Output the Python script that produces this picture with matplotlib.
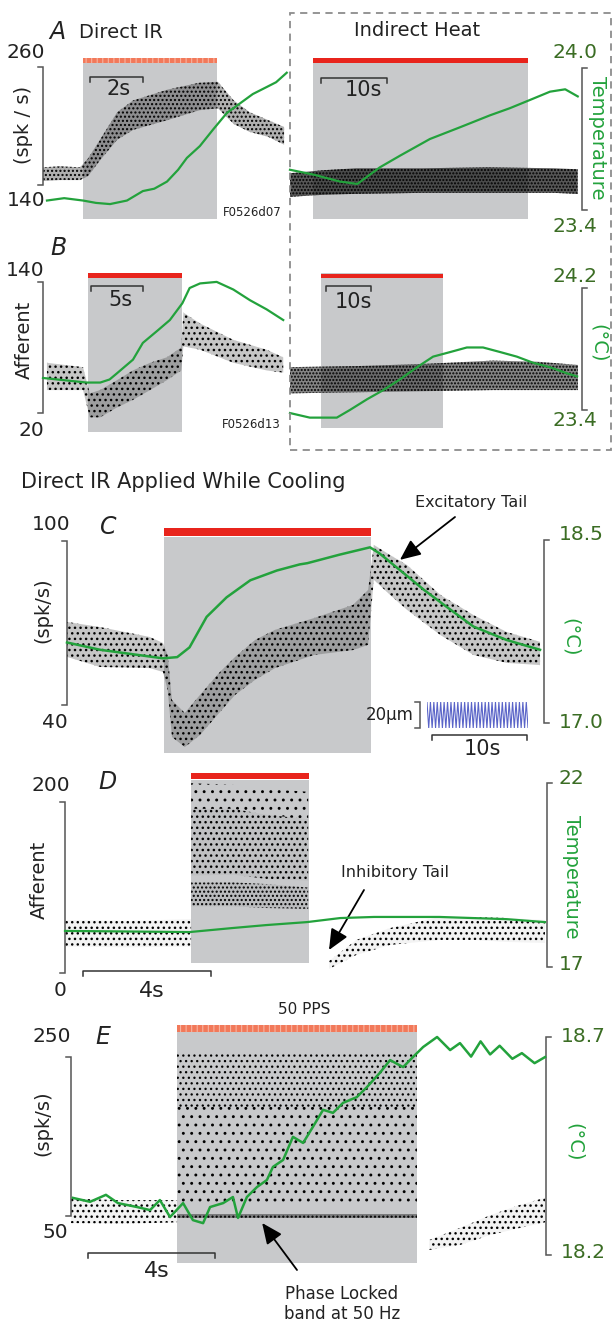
import numpy as np
import matplotlib
matplotlib.use('Agg')
import matplotlib.pyplot as plt
from matplotlib.patches import Rectangle
from matplotlib.transforms import blended_transform_factory as blend

W, H = 614, 1323
plt.rcParams['font.family'] = ['DejaVu Sans']
plt.rcParams['hatch.linewidth'] = 1.0

GREEN = '#23a23c'
DKGREEN = '#3b6d24'
SHADE = '#c8c9cb'
RED = '#e8241c'
SALMON = '#f2795a'
INK = '#222222'
AXC = '#555555'

# ---------------- data ----------------
# A, direct IR: firing-rate cloud (spk/s) and temperature (deg C)
a1_t = [0, 0.64, 1.4, 1.7, 2.15, 2.8, 3.4, 4.7, 5.9, 6.6, 7.2, 7.8, 8.5, 9.1]
a1_lo = [144, 145, 145, 149, 165, 186, 196, 206, 216, 218, 202, 194, 189, 181]
a1_hi = [158, 159, 158, 167, 186, 214, 226, 237, 244, 245, 226, 214, 206, 199]
a1_temp_t = [0.15, 0.8, 1.51, 2.0, 2.53, 3.17, 3.77, 4.2, 4.68, 5.1, 5.43, 5.92, 6.42, 6.94, 7.43,
             7.92, 8.45, 8.8, 9.2]
a1_temp = [23.44, 23.45, 23.44, 23.43, 23.425, 23.44, 23.48, 23.49, 23.52, 23.57, 23.62, 23.67,
           23.74, 23.81, 23.85, 23.89, 23.92, 23.94, 23.98]

# A, indirect heat
a2_t = [0, 5, 10, 20, 30, 40, 43.6]
a2_lo = [128, 130, 131, 132, 132, 132, 131]
a2_hi = [152, 155, 157, 157, 158, 157, 156]
a2_temp_t = [0, 3.5, 7.6, 10.2, 13.6, 16.7, 21.2, 25.8, 30.3, 33.3, 36.8, 39.4, 41.7, 43.6]
a2_temp = [23.57, 23.55, 23.52, 23.51, 23.58, 23.63, 23.70, 23.75, 23.80, 23.83, 23.87, 23.90, 23.91, 23.88]

# B, direct IR
b1_t = [0.38, 3.85, 4.5, 5.5, 7.1, 8.65, 10.3, 11.9, 13.3, 13.5, 15.1, 18.3, 21.5, 23.1]
b1_lo = [41, 41, 16, 16, 25, 32, 41, 50, 59, 81, 78, 66, 59, 57]
b1_hi = [66, 62, 38, 41, 50, 59, 66, 71, 80, 112, 102, 87, 78, 71]
b1_temp_t = [0, 4.2, 5.5, 6.4, 7.1, 8.65, 9.6, 11.0, 12.2, 13.4, 14.1, 15.1, 16.7, 18.3, 19.9, 21.5, 23.1]
b1_temp = [23.61, 23.58, 23.58, 23.60, 23.64, 23.73, 23.84, 23.92, 23.99, 24.10, 24.20, 24.23, 24.24, 24.19, 24.12, 24.06, 23.99]

# B, indirect heat
b2_t = [0, 15, 30, 45, 55, 64]
b2_lo = [38, 39, 40, 41, 41, 41]
b2_hi = [62, 63, 65, 68, 67, 64]
b2_temp_t = [0, 4.4, 10.4, 13.3, 17.1, 20.7, 24.4, 28.2, 31.8, 35.6, 39.3, 42.9, 46.7, 50.4, 54, 57.8, 61.6, 63.8]
b2_temp = [23.38, 23.35, 23.35, 23.40, 23.47, 23.53, 23.60, 23.68, 23.75, 23.78, 23.81, 23.81, 23.78, 23.75, 23.71, 23.68, 23.64, 23.62]

# C, direct IR while cooling
c_t = [0, 3.5, 8.7, 10.1, 10.6, 11.05, 12.4, 14.0, 16.1, 17.7, 19.8, 21.9, 26.0, 30.1, 31.7,
       32.3, 34.0, 35.8, 39.3, 42.8, 46.3, 49.8]
c_lo = [57.6, 53.9, 53.5, 52.1, 45.5, 28.3, 24.6, 29.0, 37.4, 43.7, 49.2, 53.5, 58.3, 60.1, 62.0,
        85.8, 80.3, 74.8, 65.6, 58.3, 55.4, 54.6]
c_hi = [70.4, 68.5, 64.9, 62.7, 58.3, 41.8, 37.1, 43.7, 52.1, 57.6, 63.8, 67.5, 71.8, 76.6, 82.1,
        98.6, 94.9, 91.2, 80.3, 72.9, 66.7, 63.1]
c_temp_t = [0, 3.5, 10.1, 11.6, 12.9, 14.7, 16.8, 19.3, 22.1, 24.5, 25.3, 28.7, 31.9, 32.9, 35.1,
            37.6, 40.0, 42.8, 46.3, 49.8]
c_temp = [17.66, 17.60, 17.53, 17.54, 17.62, 17.87, 18.03, 18.17, 18.25, 18.30, 18.31, 18.38, 18.44,
          18.39, 18.25, 18.09, 17.95, 17.79, 17.68, 17.60]
vib_um = [10, -10]        # 20 um peak-to-peak vibration
vib_cycles = 30

# D
d_pre_t = [0, 2.0, 3.94]
d_pre_lo = [31, 30, 31]
d_pre_hi = [62, 61, 63]
d_in_t = [3.94, 5.25, 6.3, 7.6]
d_top_lo = [192, 192, 185, 180]
d_top_hi = [222, 220, 215, 212]
d_up_lo = [114, 115, 110, 108]
d_up_hi = [192, 192, 185, 180]
d_low_lo = [78, 78, 76, 75]
d_low_hi = [106, 106, 104, 100]
d_post_t = [8.25, 9.1, 10.16, 11.7, 12.8, 13.8, 15.0]
d_post_lo = [4.7, 21, 32.8, 38.6, 38.6, 36.3, 35.1]
d_post_hi = [14, 38.6, 52.6, 65.5, 65.5, 64.4, 62]
d_temp_t = [0, 3.9, 5.25, 6.3, 7.56, 8.6, 9.66, 11.7, 13.8, 15.0]
d_temp = [17.98, 17.95, 18.06, 18.14, 18.22, 18.33, 18.36, 18.36, 18.30, 18.22]

# E, 50 pulses per second
e_pre_t = [0, 1.5, 3.34]
e_pre_lo = [41, 40, 42]
e_pre_hi = [72, 70, 70]
e_in_t = [3.34, 10.9]
e_lock_lo = [48, 48]
e_lock_hi = [53, 53]
e_sparse_lo = [66, 66]
e_sparse_hi = [187, 187]
e_dense_lo = [187, 187]
e_dense_hi = [255, 255]
e_post_t = [11.28, 12.25, 13.2, 14.14, 14.93]
e_post_lo = [7.2, 13.5, 26, 35, 42]
e_post_hi = [19.8, 35, 51, 64, 73]
e_temp_t = [0.06, 0.6, 1.1, 1.48, 2.08, 2.49, 2.8, 3.12, 3.53, 3.84, 4.16, 4.38, 4.79, 5.1, 5.26,
            5.54, 5.86, 6.17, 6.36, 6.68, 6.99, 7.31, 7.62, 7.94, 8.25, 8.57, 9.0, 9.32, 9.73,
            10.05, 10.46, 10.77, 11.09, 11.53, 11.94, 12.25, 12.6, 12.9, 13.2, 13.5, 13.9, 14.2, 14.6, 14.93]
e_temp = [18.331, 18.322, 18.338, 18.319, 18.310, 18.303, 18.326, 18.287, 18.319, 18.280, 18.273,
          18.310, 18.319, 18.333, 18.285, 18.333, 18.356, 18.372, 18.402, 18.418, 18.471, 18.457,
          18.494, 18.533, 18.526, 18.549, 18.562, 18.585, 18.618, 18.647, 18.631, 18.654, 18.677,
          18.700, 18.670, 18.686, 18.655, 18.690, 18.660, 18.680, 18.650, 18.663, 18.640, 18.654]

fig = plt.figure(figsize=(W / 100, H / 100), dpi=100)


def T(x, y, s, **kw):
    kw.setdefault('ha', 'center')
    kw.setdefault('va', 'center')
    kw.setdefault('color', INK)
    return fig.text(x / W, 1 - y / H, s, **kw)


def panel(xl, xr, yt, yb, tspan, ref, tref):
    # ref/tref = (pixel_y, value, pixel_y, value) at the two bracket ends
    ax = fig.add_axes([xl / W, 1 - yb / H, (xr - xl) / W, (yb - yt) / H])
    ax.set_xlim(0, tspan)
    tw = ax.twinx()
    for a, (p0, v0, p1, v1) in ((ax, ref), (tw, tref)):
        k = (v1 - v0) / (p0 - p1)
        a.set_ylim(v0 + (p0 - yb) * k, v0 + (p0 - yt) * k)
        a.axis('off')
    return ax, tw


def band(ax, t, lo, hi, hatch='....', face=0.45, hlw=1.0):
    with plt.rc_context({'hatch.linewidth': hlw}):
        pc = ax.fill_between(t, lo, hi, facecolor=(0.12, 0.12, 0.12, face), edgecolor='k',
                             hatch=hatch, linewidth=0, clip_on=False, zorder=2)
        if hasattr(pc, 'set_hatch_linewidth'):
            pc.set_hatch_linewidth(hlw)


def temp_line(tw, t, v, lw=1.6):
    tw.plot(t, v, color=GREEN, lw=lw, clip_on=False, zorder=3)


def bracket(ax, xpx, v0, v1, side):
    tr = blend(fig.transFigure, ax.transData)
    x = xpx / W
    d = 5 / W * (-1 if side == 'left' else 1)
    ax.plot([x + d, x, x, x + d], [v0, v0, v1, v1], transform=tr, color=AXC, lw=1.1,
            clip_on=False, solid_joinstyle='miter')


def scalebar(ax, t0, length, ypx, label, lx, ly, fs=15):
    tr = blend(ax.transData, fig.transFigure)
    y = 1 - ypx / H
    dy = 5 / H
    ax.plot([t0, t0, t0 + length, t0 + length], [y - dy, y, y, y - dy], transform=tr,
            color='#333333', lw=1.1, clip_on=False)
    T(lx, ly, label, fontsize=fs)


def stim(ax, t0, t1, ypx, hpx, color, pulsed=False):
    tr = blend(ax.transData, fig.transFigure)
    with plt.rc_context({'hatch.linewidth': 0.8}):
        r = Rectangle((t0, 1 - (ypx + hpx / 2) / H), t1 - t0, hpx / H, transform=tr,
                      facecolor=color, edgecolor='#f8b3a0' if pulsed else color,
                      hatch='|||' if pulsed else None, lw=0, clip_on=False, zorder=4)
        ax.add_patch(r)


def arrow(ax, xy, tail):
    ax.annotate('', xy=xy, xytext=(tail[0] / W, 1 - tail[1] / H), textcoords='figure fraction',
                arrowprops=dict(arrowstyle='-|>,head_length=0.9,head_width=0.4', color='k',
                                lw=1.3, mutation_scale=14, shrinkA=0, shrinkB=0))


NUM = 14.5
LAB = 14

# ---------------- A ----------------
axA1, twA1 = panel(43, 287, 62, 219, 9.21, (185, 140, 67, 260), (210, 23.4, 68, 24.0))
axA1.axvspan(1.51, 6.57, color=SHADE, lw=0, zorder=0)
band(axA1, a1_t, a1_lo, a1_hi, hatch='....', face=0.35)
temp_line(twA1, a1_temp_t, a1_temp)
stim(axA1, 1.51, 6.57, 60, 5, SALMON, pulsed=True)
bracket(axA1, 43, 140, 260, 'left')
scalebar(axA1, 1.77, 2, 77, '2s', 119, 89)
T(26, 53, '260', fontsize=NUM)
T(26, 200, '140', fontsize=NUM)
T(24, 125, '(spk / s)', fontsize=LAB, rotation=90)
T(57, 32, 'A', fontsize=17, style='italic')
T(79, 32, 'Direct IR', fontsize=14, ha='left')
T(223, 213, 'F0526d07', fontsize=8.5, ha='left')

axA2, twA2 = panel(290, 578, 62, 219, 43.64, (185, 140, 67, 260), (210, 23.4, 68, 24.0))
axA2.axvspan(3.48, 36.06, color=SHADE, lw=0, zorder=0)
band(axA2, a2_t, a2_lo, a2_hi, hatch='.....', face=0.75)
temp_line(twA2, a2_temp_t, a2_temp)
stim(axA2, 3.48, 36.06, 60, 5, RED)
bracket(twA2, 582, 23.4, 24.0, 'right')
scalebar(axA2, 4.7, 10, 78, '10s', 363, 90)
T(417, 30, 'Indirect Heat', fontsize=14)
T(553, 52, '24.0', fontsize=NUM, ha='left', color=DKGREEN)
T(553, 226, '23.4', fontsize=NUM, ha='left', color=DKGREEN)
T(598, 138, 'Temperature', fontsize=LAB, rotation=-90, color=GREEN)

# ---------------- B ----------------
axB1, twB1 = panel(43, 285, 278, 432, 23.27, (413, 20, 282, 140), (410, 23.4, 288, 24.2))
axB1.axvspan(4.33, 13.37, color=SHADE, lw=0, zorder=0)
band(axB1, b1_t, b1_lo, b1_hi, hatch='...', face=0.25)
temp_line(twB1, b1_temp_t, b1_temp)
stim(axB1, 4.33, 13.37, 275, 5, RED)
bracket(axB1, 43, 20, 140, 'left')
scalebar(axB1, 4.6, 5, 286, '5s', 120, 300)
T(25, 270, '140', fontsize=NUM)
T(31, 430, '20', fontsize=NUM)
T(24, 340, 'Afferent', fontsize=LAB, rotation=90)
T(58, 248, 'B', fontsize=17, style='italic')
T(222, 424, 'F0526d13', fontsize=8.5, ha='left')

axB2, twB2 = panel(290, 578, 273, 428, 64.0, (413, 20, 282, 140), (410, 23.4, 288, 24.2))
axB2.axvspan(6.9, 34.0, color=SHADE, lw=0, zorder=0)
band(axB2, b2_t, b2_lo, b2_hi, hatch='.....', face=0.55)
temp_line(twB2, b2_temp_t, b2_temp)
stim(axB2, 6.9, 34.0, 276, 4, RED)
bracket(twB2, 582, 23.4, 24.2, 'right')
scalebar(axB2, 8.0, 10, 286, '10s', 353, 302)
T(553, 277, '24.2', fontsize=NUM, ha='left', color=DKGREEN)
T(553, 420, '23.4', fontsize=NUM, ha='left', color=DKGREEN)
T(598, 343, '(°C)', fontsize=LAB, rotation=-90, color=GREEN)

fig.add_artist(Rectangle((290 / W, 1 - 450 / H), (611 - 290) / W, (450 - 13) / H,
                         transform=fig.transFigure, fill=False, ec='#8c8c8c', lw=1.3,
                         ls=(0, (4, 3))))

# ---------------- C ----------------
T(21, 482, 'Direct IR Applied While Cooling', fontsize=15, ha='left')
axC, twC = panel(67, 541, 537, 753, 49.9, (705, 40, 541, 100), (723, 17.0, 540, 18.5))
axC.axvspan(10.2, 32.0, color=SHADE, lw=0, zorder=0)
band(axC, c_t, c_lo, c_hi, hatch='...', face=0.25)
temp_line(twC, c_temp_t, c_temp, lw=1.8)
stim(axC, 10.2, 32.0, 532, 8, RED)
bracket(axC, 67, 40, 100, 'left')
bracket(twC, 544, 17.0, 18.5, 'right')
scalebar(axC, 38.4, 10, 735, '10s', 482, 749)
T(51, 525, '100', fontsize=NUM)
T(55, 723, '40', fontsize=NUM)
T(43, 610, '(spk/s)', fontsize=LAB, rotation=90)
T(108, 527, 'C', fontsize=17, style='italic')
T(559, 535, '18.5', fontsize=NUM, ha='left', color=DKGREEN)
T(559, 723, '17.0', fontsize=NUM, ha='left', color=DKGREEN)
T(570, 637, '(°C)', fontsize=LAB, rotation=-90, color=GREEN)
T(471, 502, 'Excitatory Tail', fontsize=11.5)
arrow(axC, (35.05, 93.1), (455, 517))

# vibration trace, 20 um
axV = fig.add_axes([427 / W, 1 - 728 / H, (528 - 427) / W, (728 - 702) / H])
vib = np.tile(vib_um, vib_cycles)
axV.plot(np.arange(len(vib)), vib, color='#5a64c8', lw=0.8)
axV.set_xlim(0, len(vib) - 1)
axV.set_ylim(-10, 10)
axV.axis('off')
bracket(axV, 420, -10, 10, 'left')
T(414, 715, '20µm', fontsize=12, ha='right')

# ---------------- D ----------------
axD, twD = panel(65, 545, 780, 963, 15.0, (973, 0, 802, 200), (967, 17, 783, 22))
axD.axvspan(3.94, 7.63, color=SHADE, lw=0, zorder=0)
band(axD, d_pre_t, d_pre_lo, d_pre_hi, hatch='...', face=0.05, hlw=1.0)
band(axD, d_in_t, d_top_lo, d_top_hi, hatch='..', face=0.0, hlw=0.9)
band(axD, d_in_t, d_up_lo, d_up_hi, hatch='...', face=0.05, hlw=1.0)
band(axD, d_in_t, d_low_lo, d_low_hi, hatch='....', face=0.08, hlw=1.0)
band(axD, d_post_t, d_post_lo, d_post_hi, hatch='...', face=0.05, hlw=1.0)
temp_line(twD, d_temp_t, d_temp)
stim(axD, 3.94, 7.63, 775.5, 6, RED)
bracket(axD, 65, 0, 200, 'left')
bracket(twD, 547, 17, 22, 'right')
scalebar(axD, 0.56, 4, 971, '4s', 152, 991, fs=16)
T(51, 785, '200', fontsize=NUM)
T(60, 990, '0', fontsize=NUM)
T(39, 880, 'Afferent', fontsize=LAB, rotation=90)
T(107, 782, 'D', fontsize=17, style='italic')
T(559, 778, '22', fontsize=NUM, ha='left', color=DKGREEN)
T(559, 965, '17', fontsize=NUM, ha='left', color=DKGREEN)
T(571, 877, 'Temperature', fontsize=LAB, rotation=-90, color=GREEN)
T(395, 872, 'Inhibitory Tail', fontsize=11.5)
arrow(axD, (8.25, 26.9), (364, 890))

# ---------------- E ----------------
T(304, 1010, '50 PPS', fontsize=11)
axE, twE = panel(71, 546, 1032, 1263, 14.96, (1216, 50, 1057, 250), (1255, 18.2, 1037, 18.7))
axE.axvspan(3.34, 10.9, color=SHADE, lw=0, zorder=0)
band(axE, e_pre_t, e_pre_lo, e_pre_hi, hatch='...', face=0.05, hlw=1.0)
band(axE, e_in_t, e_sparse_lo, e_sparse_hi, hatch='..', face=0.0, hlw=0.9)
band(axE, e_in_t, e_dense_lo, e_dense_hi, hatch='...', face=0.0, hlw=0.9)
band(axE, e_in_t, e_lock_lo, e_lock_hi, hatch='....', face=0.45)
band(axE, e_post_t, e_post_lo, e_post_hi, hatch='...', face=0.05, hlw=1.0)
temp_line(twE, e_temp_t, e_temp, lw=1.8)
stim(axE, 3.34, 10.9, 1028, 7, SALMON, pulsed=True)
bracket(axE, 71, 50, 250, 'left')
bracket(twE, 546, 18.2, 18.7, 'right')
scalebar(axE, 0.54, 4, 1253, '4s', 157, 1271, fs=16)
T(52, 1037, '250', fontsize=NUM)
T(55, 1233, '50', fontsize=NUM)
T(43, 1123, '(spk/s)', fontsize=LAB, rotation=90)
T(103, 1037, 'E', fontsize=17, style='italic')
T(561, 1037, '18.7', fontsize=NUM, ha='left', color=DKGREEN)
T(561, 1253, '18.2', fontsize=NUM, ha='left', color=DKGREEN)
T(574, 1142, '(°C)', fontsize=LAB, rotation=-90, color=GREEN)
T(342, 1304, 'Phase Locked\nband at 50 Hz', fontsize=12, linespacing=1.1)
arrow(axE, (6.02, 41.2), (297, 1270))

fig.savefig('out.png', dpi=100)
